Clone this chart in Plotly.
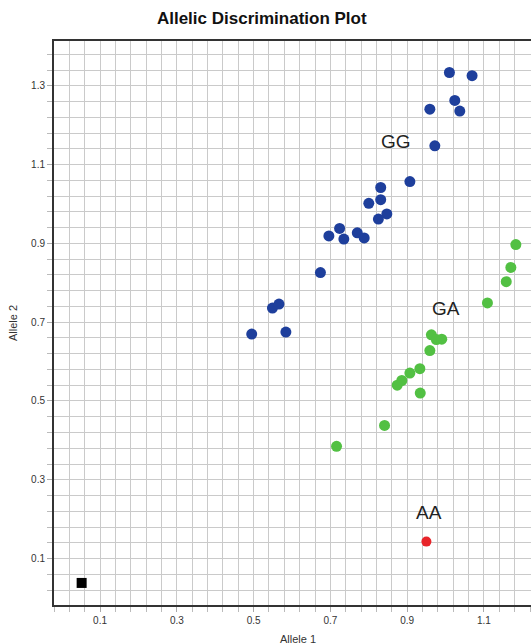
import plotly.graph_objects as go

# Allele 1 (x) / Allele 2 (y) values
gg_x = [1.010, 1.069, 1.024, 0.959, 1.037, 0.972, 0.907, 0.831, 0.831, 0.800, 0.847,
        0.825, 0.724, 0.696, 0.735, 0.770, 0.788, 0.674, 0.549, 0.566, 0.495, 0.584]
gg_y = [1.334, 1.326, 1.263, 1.241, 1.236, 1.148, 1.057, 1.042, 1.011, 1.002, 0.975,
        0.962, 0.938, 0.919, 0.911, 0.927, 0.914, 0.826, 0.736, 0.746, 0.670, 0.675]

ga_x = [1.183, 1.170, 1.158, 1.109, 0.963, 0.976, 0.990, 0.959, 0.933, 0.907, 0.886,
        0.874, 0.934, 0.841, 0.716]
ga_y = [0.897, 0.839, 0.803, 0.749, 0.668, 0.656, 0.657, 0.628, 0.582, 0.571, 0.552,
        0.540, 0.520, 0.438, 0.385]

aa_x = [0.950]
aa_y = [0.143]

ntc_x = [0.052]
ntc_y = [0.038]

cluster_labels = ["GG", "GA", "AA"]
label_x = [0.872, 1.002, 0.956]
label_y = [1.159, 0.736, 0.216]

FONT = "Liberation Sans, Arial, sans-serif"
GRID = "#cacaca"

fig = go.Figure()
fig.add_trace(go.Scatter(x=gg_x, y=gg_y, mode="markers", name="GG",
                         marker=dict(color="#1e3f9c", size=11)))
fig.add_trace(go.Scatter(x=ga_x, y=ga_y, mode="markers", name="GA",
                         marker=dict(color="#52c043", size=11)))
fig.add_trace(go.Scatter(x=aa_x, y=aa_y, mode="markers", name="AA",
                         marker=dict(color="#e8242a", size=10)))
fig.add_trace(go.Scatter(x=ntc_x, y=ntc_y, mode="markers", name="NTC",
                         marker=dict(color="#000000", size=10, symbol="square")))

for t, x, y in zip(cluster_labels, label_x, label_y):
    fig.add_annotation(x=x, y=y, text=t, showarrow=False,
                       font=dict(family=FONT, size=19, color="#222222"))

fig.add_annotation(xref="paper", yref="paper", x=0.511, y=-0.060, text="Allele 1",
                   showarrow=False, xanchor="center", yanchor="middle",
                   font=dict(family=FONT, size=11, color="#333333"))
fig.add_annotation(xref="paper", yref="paper", x=-0.086, y=0.5, text="Allele 2",
                   showarrow=False, textangle=-90, xanchor="center", yanchor="middle",
                   font=dict(family=FONT, size=11, color="#333333"))

axis_common = dict(
    showgrid=True, gridcolor=GRID, gridwidth=1,
    zeroline=False, showline=True, linecolor="#333333", linewidth=2,
    ticks="outside", ticklen=5, tickcolor="#aaaaaa",
    tickfont=dict(family=FONT, size=10, color="#333333"),
    tickformat=".1f",
)

fig.update_xaxes(range=[-0.02, 1.2225], dtick=0.2, tick0=0.1, mirror=True,
                 minor=dict(dtick=0.04, tick0=0.02, showgrid=True, gridcolor=GRID,
                            gridwidth=1, ticks="outside", ticklen=5, tickcolor="#bbbbbb"),
                 **axis_common)
fig.update_yaxes(range=[-0.018, 1.414], dtick=0.2, tick0=0.1,
                 minor=dict(dtick=0.04, tick0=0.02, showgrid=True, gridcolor=GRID,
                            gridwidth=1, ticks="outside", ticklen=5, tickcolor="#bbbbbb"),
                 **axis_common)

fig.update_layout(
    width=531, height=644,
    margin=dict(l=54, r=0, t=41, b=39),
    paper_bgcolor="white", plot_bgcolor="white",
    showlegend=False,
    title=dict(text="<b>Allelic Discrimination Plot</b>", x=0.493, y=0.972,
               xanchor="center", yanchor="middle",
               font=dict(family=FONT, size=17, color="#111111")),
)

fig.write_html("out.html", config={"displayModeBar": False},
               post_script="document.body.style.margin='0';document.body.style.overflow='hidden';")
